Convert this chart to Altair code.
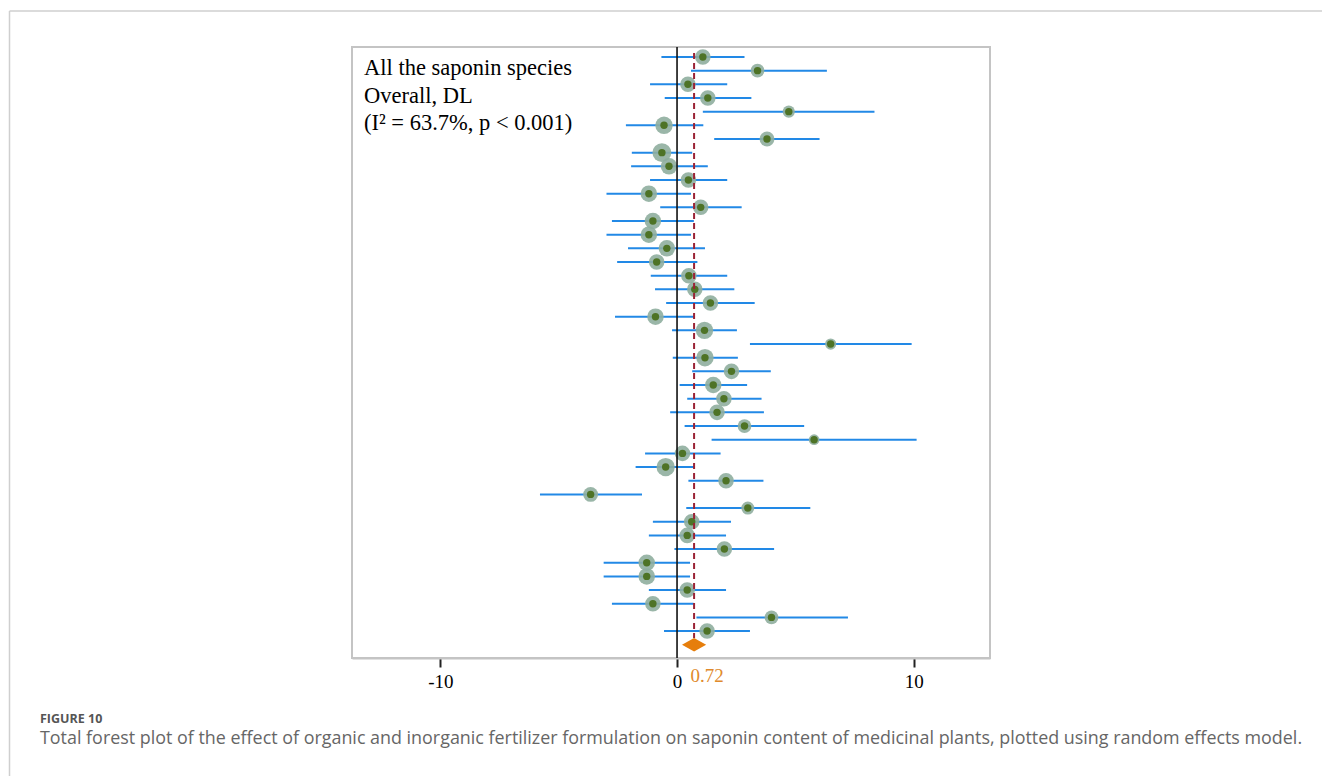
import altair as alt
import pandas as pd

# Per-study standardized effect sizes with 95% CI and random-effects weight (%)
est = [1.09, 3.40, 0.46, 1.30, 4.72, -0.55, 3.80, -0.64, -0.34, 0.48,
       -1.19, 1.00, -1.02, -1.19, -0.43, -0.86, 0.50, 0.75, 1.41, -0.91,
       1.16, 6.49, 1.18, 2.30, 1.53, 1.98, 1.69, 2.85, 5.79, 0.23,
       -0.48, 2.07, -3.65, 2.99, 0.62, 0.43, 2.00, -1.28, -1.28, 0.43,
       -1.02, 3.99, 1.27]
ci_low = [-0.66, 0.59, -1.14, -0.52, 1.09, -2.16, 1.57, -1.91, -1.94, -1.14,
          -2.98, -0.71, -2.75, -2.98, -2.07, -2.53, -1.11, -0.93, -0.46, -2.62,
          -0.21, 3.08, -0.18, 0.64, 0.11, 0.43, -0.29, 0.32, 1.46, -1.35,
          -1.75, 0.48, -5.79, 0.39, -1.02, -1.19, -0.11, -3.10, -3.10, -1.19,
          -2.75, 0.82, -0.55]
ci_high = [2.85, 6.33, 2.12, 3.14, 8.34, 1.11, 6.02, 0.64, 1.30, 2.12,
           0.59, 2.73, 0.71, 0.59, 1.18, 0.86, 2.12, 2.42, 3.28, 0.73,
           2.53, 9.91, 2.57, 3.96, 2.96, 3.57, 3.67, 5.37, 10.12, 1.84,
           0.73, 3.65, -1.48, 5.63, 2.28, 2.07, 4.10, 0.55, 0.55, 2.07,
           0.70, 7.22, 3.08]
weight = [2.3, 1.8, 2.3, 2.3, 1.4, 2.9, 2.1, 3.4, 2.6, 2.3,
          2.6, 2.3, 2.6, 2.6, 2.6, 2.3, 2.3, 2.3, 2.3, 2.6,
          2.9, 1.2, 2.9, 2.3, 2.6, 2.3, 2.3, 1.8, 1.1, 2.3,
          3.2, 2.3, 2.1, 1.6, 2.3, 2.3, 2.3, 2.6, 2.6, 2.3,
          2.3, 1.8, 2.3]

pooled = 0.72
pooled_low = 0.21
pooled_high = 1.23

annotation = ["All the saponin species", "Overall, DL", "(I\u00b2 = 63.7%, p < 0.001)"]
fig_label = "FIGURE 10"
caption = ("Total forest plot of the effect of organic and inorganic fertilizer formulation "
           "on saponin content of medicinal plants, plotted using random effects model.")

n = len(est)
studies = pd.DataFrame({
    "row": list(range(1, n + 1)),
    "est": est,
    "lo": ci_low,
    "hi": ci_high,
    "weight": weight,
})
pooled_row = n + 1

W, H = 638, 611
PAD = {"left": 352, "top": 47, "right": 332, "bottom": 118}

x_scale = alt.Scale(domain=[-13.73, 13.22], nice=False, zero=False)
y_scale = alt.Scale(domain=[0.27, 44.97], reverse=True, nice=False, zero=False)

serif = "Liberation Serif"

base = alt.Chart(studies)

ci = base.mark_rule(color="#2289e6", strokeWidth=2).encode(
    x=alt.X("lo:Q", scale=x_scale,
            axis=alt.Axis(values=[-10, 0, 10], title=None, labelExpr="'' + datum.value")),
    x2="hi:Q",
    y=alt.Y("row:Q", scale=y_scale, axis=None),
)

halo = base.mark_circle(color="#8fae9f", opacity=0.9).encode(
    x="est:Q",
    y="row:Q",
    size=alt.Size("weight:Q", scale=alt.Scale(domain=[0, 4], range=[0, 420]), legend=None),
)

dot = base.mark_circle(color="#4e7326", opacity=1, size=55).encode(
    x="est:Q",
    y="row:Q",
)

zero_line = alt.Chart(pd.DataFrame({"x": [0]})).mark_rule(
    color="#111111", strokeWidth=1.6
).encode(x="x:Q", y=alt.value(0), y2=alt.value(H))

pooled_line = alt.Chart(
    pd.DataFrame({"x": [pooled], "top": [0.71], "bottom": [pooled_row - 0.5]})
).mark_rule(color="#9b2335", strokeWidth=2, strokeDash=[6, 4]).encode(
    x="x:Q", y="top:Q", y2="bottom:Q"
)

diamond = alt.Chart(pd.DataFrame({
    "x": [pooled_low, pooled, pooled_high],
    "upper": [pooled_row, pooled_row - 0.5, pooled_row],
    "lower": [pooled_row, pooled_row + 0.5, pooled_row],
})).mark_area(color="#e67e0c", interpolate="linear", orient="vertical", opacity=1).encode(
    x="x:Q", y="upper:Q", y2="lower:Q"
)

pooled_label = alt.Chart(pd.DataFrame({"x": [pooled], "t": [f"{pooled:.2f}"]})).mark_text(
    font=serif, fontSize=19, color="#e08a2c", align="center", baseline="alphabetic", dx=13
).encode(x="x:Q", y=alt.value(635), text="t:N")

notes = alt.Chart(pd.DataFrame({"t": annotation, "yy": [27.5, 55.5, 83]})).mark_text(
    font=serif, fontSize=22.5, color="#000000", align="left", baseline="alphabetic"
).encode(x=alt.value(12), y=alt.Y("yy:Q", scale=None), text="t:N")

# page frame (top and left card edges)
frame_top = alt.Chart(pd.DataFrame({"a": [0]})).mark_rule(color="#cfcfcf", strokeWidth=1.5).encode(
    x=alt.value(-342.5), x2=alt.value(970), y=alt.value(-36))
frame_left = alt.Chart(pd.DataFrame({"a": [0]})).mark_rule(color="#cfcfcf", strokeWidth=1.5).encode(
    x=alt.value(-342.5), y=alt.value(-36), y2=alt.value(729))

fig_text = alt.Chart(pd.DataFrame({"t": [fig_label]})).mark_text(
    font="Open Sans", fontSize=12.5, fontWeight="bold", color="#555555",
    align="left", baseline="alphabetic"
).encode(x=alt.value(-312), y=alt.value(676), text="t:N")

cap_text = alt.Chart(pd.DataFrame({"t": [caption]})).mark_text(
    font="Open Sans", fontSize=17.9, color="#666666",
    align="left", baseline="alphabetic"
).encode(x=alt.value(-312), y=alt.value(697), text="t:N")

chart = alt.layer(
    ci, halo, dot, zero_line, pooled_line, diamond, pooled_label, notes,
    frame_top, frame_left, fig_text, cap_text
).properties(
    width=W, height=H,
    autosize=alt.AutoSizeParams(type="none"),
    padding=PAD,
    background="white",
).configure_view(
    stroke="#c4c4c4", strokeWidth=2
).configure_axis(
    domainColor="#c4c4c4", domainWidth=2,
    tickColor="#222222", tickWidth=2, tickSize=9,
    labelFont=serif, labelFontSize=19, labelColor="#000000",
    labelPadding=5, grid=False,
)

chart.save("out.html", embed_options={"renderer": "svg", "actions": False})
